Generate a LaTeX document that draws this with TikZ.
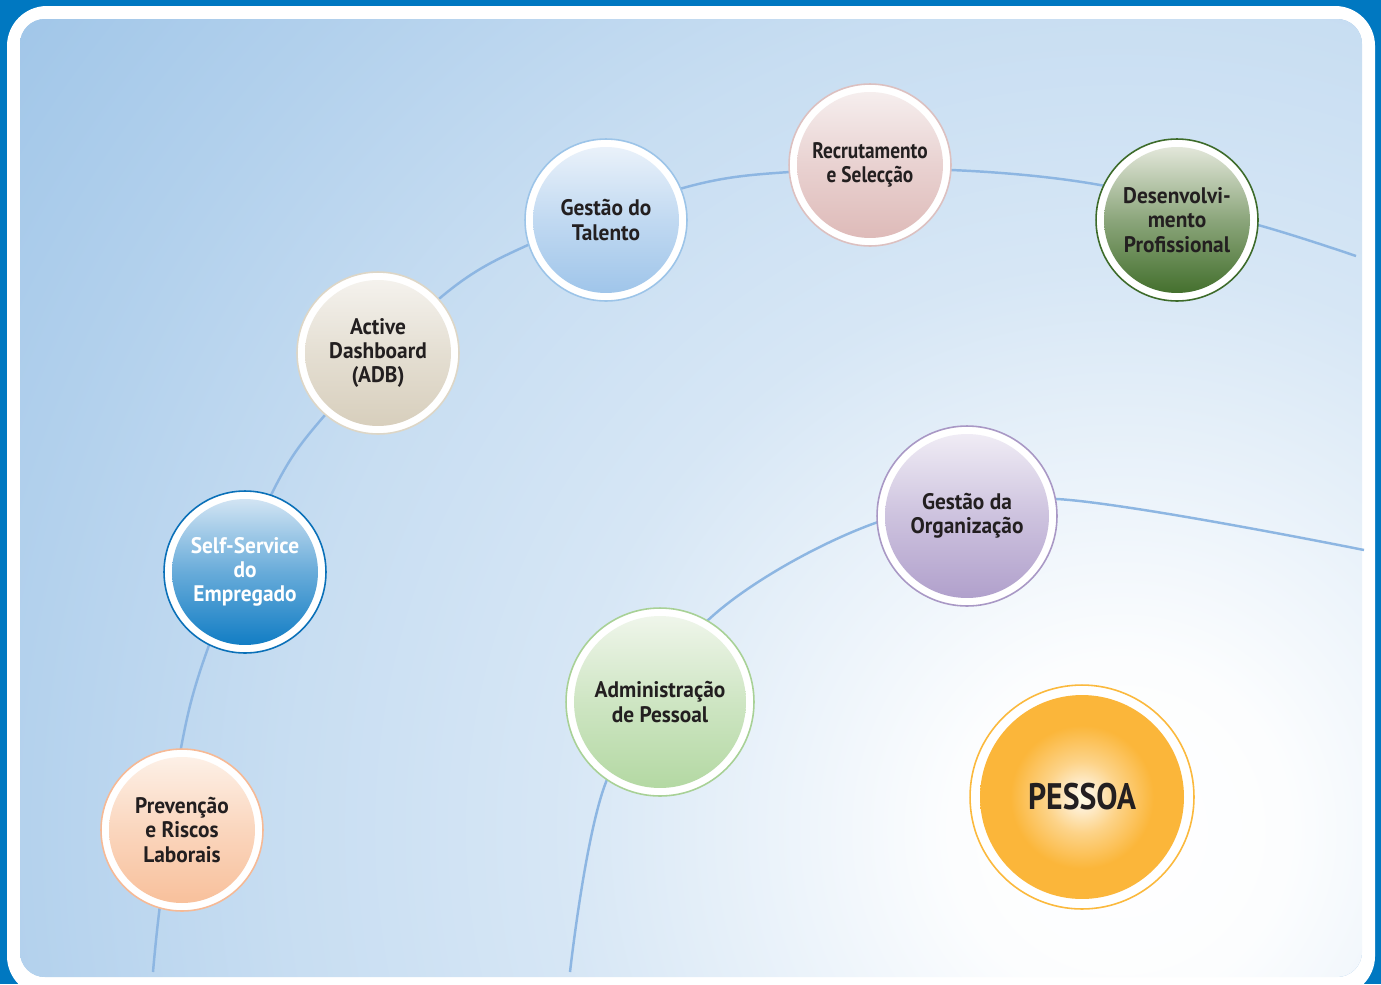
\documentclass[tikz,border=0pt]{standalone}
\usepackage{fontspec}
\newfontfamily\bubfont[FakeStretch=0.95]{PT Sans}
\newfontfamily\bubfontN[FakeStretch=0.86]{PT Sans}
\definecolor{frameblue}{HTML}{0078C1}
\definecolor{bgblue}{HTML}{9FC5E8}
\definecolor{arcblue}{HTML}{8DB6E2}
\definecolor{txt}{HTML}{231F20}
\definecolor{recB}{HTML}{DCC0C0}\definecolor{recT}{HTML}{F7F1F1}\definecolor{recD}{HTML}{DDB8B6}
\definecolor{desB}{HTML}{3D6B2A}\definecolor{desT}{HTML}{ECEEE4}\definecolor{desD}{HTML}{3C6A25}
\definecolor{talB}{HTML}{9CC4E8}\definecolor{talT}{HTML}{EEF4FB}\definecolor{talD}{HTML}{9CC3E9}
\definecolor{adbB}{HTML}{DDD6C6}\definecolor{adbT}{HTML}{F6F4F0}\definecolor{adbD}{HTML}{D6CDBA}
\definecolor{ssB}{HTML}{0A70B8}\definecolor{ssT}{HTML}{DDEAF6}\definecolor{ssD}{HTML}{0878C2}
\definecolor{prvB}{HTML}{F6B995}\definecolor{prvT}{HTML}{FDF3EB}\definecolor{prvD}{HTML}{F8BE98}
\definecolor{orgB}{HTML}{A998C5}\definecolor{orgT}{HTML}{F3F0F7}\definecolor{orgD}{HTML}{AE9DCA}
\definecolor{admB}{HTML}{A8D196}\definecolor{admT}{HTML}{F2F7EE}\definecolor{admD}{HTML}{B1D7A0}
\definecolor{pesB}{HTML}{FBB93D}\definecolor{pesD}{HTML}{FBB63A}
\pgfdeclareradialshading{bgglow}{\pgfpoint{0bp}{0bp}}{color(0bp)=(white); color(3bp)=(white!97!bgblue); color(10bp)=(white!58!bgblue); color(15bp)=(white!42!bgblue); color(20bp)=(white!20!bgblue); color(25bp)=(bgblue); color(50bp)=(bgblue)}
\pgfdeclareradialshading{sunshade}{\pgfpoint{0bp}{0bp}}{color(0bp)=(white!90!yellow); color(2bp)=(white!82!pesD); color(8bp)=(white!40!pesD); color(16bp)=(pesD); color(50bp)=(pesD)}
\tikzset{
  bubble/.style n args={5}{circle, minimum size=#1, inner sep=0pt, draw=#3, line width=0.9pt, fill=white,
    path picture={\shade[top color=#4, bottom color=#5, middle color=#4!45!#5] (path picture bounding box.center) circle (#2);},
    align=center, text=txt, font=\bubfont\bfseries\fontsize{12.8}{13.8}\selectfont},
  arc/.style={draw=arcblue, line width=1.4pt},
}
\begin{document}
\begin{tikzpicture}[x=0.02cm, y=-0.02cm]
\useasboundingbox (0,0) rectangle (1381,984);
\clip (0,0) rectangle (1381,984);
\fill[frameblue] (0,0) rectangle (1381,984);
\fill[white, rounded corners=0.8cm] (7,6) rectangle (1375,996);
\begin{scope}
\clip[rounded corners=0.5cm] (20,19) rectangle (1362,977);
\fill[bgblue] (20,19) rectangle (1362,977);
\shade[shading=bgglow] (1120,830) circle (28cm);
\end{scope}
% outer arc
\coordinate (o1) at (153,972);
\coordinate (o2) at (160,905);
\coordinate (o3) at (181,748);
\coordinate (o4) at (208,648);
\coordinate (o5) at (272,493);
\coordinate (o6) at (325,415);
\coordinate (o7) at (440,298);
\coordinate (o8) at (528,245);
\coordinate (o9) at (683,188);
\coordinate (o10) at (790,172);
\coordinate (o11) at (951,170);
\coordinate (o12) at (1100,185);
\coordinate (o13) at (1258,225);
\coordinate (o14) at (1356,256);
\draw[arc] plot[smooth, tension=0.55] coordinates {(o1) (o2) (o3) (o4) (o5) (o6) (o7) (o8) (o9) (o10) (o11) (o12) (o13) (o14)};
% inner arc
\coordinate (i1) at (570,972);
\coordinate (i2) at (606,782);
\coordinate (i3) at (706,622);
\coordinate (i4) at (878,522);
\coordinate (i5) at (1057,499);
\coordinate (i6) at (1364,550);
\draw[arc] plot[smooth, tension=0.55] coordinates {(i1) (i2) (i3) (i4) (i5) (i6)};
% bubbles
\node[bubble={3.24cm}{1.46cm}{recB}{recT}{recD}, font=\bubfontN\bfseries\fontsize{12.8}{13.8}\selectfont] (rec) at (870,165) {Recrutamento\\e Selecção};
\node[bubble={3.24cm}{1.46cm}{desB}{desT}{desD}] (des) at (1177,220) {Desenvolvi-\\mento\\Profissional};
\node[bubble={3.24cm}{1.46cm}{talB}{talT}{talD}] (tal) at (606,220) {Gestão do\\Talento};
\node[bubble={3.24cm}{1.46cm}{adbB}{adbT}{adbD}] (adb) at (378,353) {Active\\Dashboard\\(ADB)};
\node[bubble={3.24cm}{1.46cm}{ssB}{ssT}{ssD}, text=white] (ss) at (245,572) {Self-Service\\do\\Empregado};
\node[bubble={3.24cm}{1.46cm}{prvB}{prvT}{prvD}] (prv) at (182,830) {Prevenção\\e Riscos\\Laborais};
\node[bubble={3.6cm}{1.64cm}{orgB}{orgT}{orgD}] (org) at (967,516) {Gestão da\\Organização};
\node[bubble={3.76cm}{1.72cm}{admB}{admT}{admD}] (adm) at (660,702) {Administração\\de Pessoal};
\node[circle, minimum size=4.48cm, inner sep=0pt, draw=pesB, line width=0.9pt, fill=white,
  path picture={\shade[shading=sunshade] (path picture bounding box.center) circle (2.04cm);},
  text=txt, font=\bubfontN\bfseries\fontsize{21}{24}\selectfont] (pes) at (1082,797) {PESSOA};
\end{tikzpicture}
\end{document}
